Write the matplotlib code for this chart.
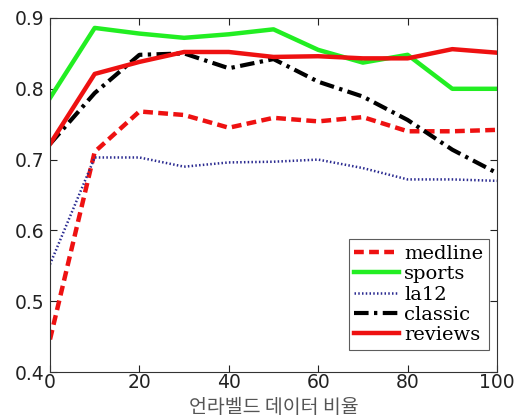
import matplotlib
matplotlib.use("Agg")
import matplotlib.pyplot as plt

x = [0, 10, 20, 30, 40, 50, 60, 70, 80, 90, 100]
medline = [0.446, 0.711, 0.768, 0.763, 0.745, 0.759, 0.754, 0.760, 0.740, 0.740, 0.742]
sports = [0.787, 0.886, 0.878, 0.872, 0.877, 0.884, 0.855, 0.837, 0.848, 0.800, 0.800]
la12 = [0.552, 0.703, 0.703, 0.690, 0.696, 0.697, 0.700, 0.688, 0.672, 0.672, 0.670]
classic = [0.722, 0.794, 0.848, 0.850, 0.829, 0.842, 0.810, 0.789, 0.756, 0.714, 0.681]
reviews = [0.722, 0.821, 0.838, 0.852, 0.852, 0.845, 0.846, 0.843, 0.843, 0.856, 0.851]

xticks = [0, 20, 40, 60, 80, 100]
yticks = [0.4, 0.5, 0.6, 0.7, 0.8, 0.9]
xlabel = "언라벨드 데이터 비율"

fig = plt.figure(figsize=(5.31, 4.20), dpi=100)
ax = fig.add_axes([50/531, 48/420, 447/531, 354/420])

ax.plot(x, medline, color="#ee1111", lw=3.2, ls=(0, (2.2, 1.2)), label="medline")
ax.plot(x, sports, color="#22ee22", lw=3.2, ls="-", label="sports")
ax.plot(x, la12, color="#2a2a90", lw=1.8, ls=(0, (0.6, 0.9)), label="la12")
ax.plot(x, classic, color="black", lw=3.0, ls=(0, (3.5, 1.3, 0.8, 1.3)), label="classic")
ax.plot(x, reviews, color="#ee1111", lw=3.2, ls="-", label="reviews")

ax.set_xlim(0, 100)
ax.set_ylim(0.4, 0.9)
ax.set_xticks(xticks)
ax.set_yticks(yticks)
ax.set_xticklabels([str(v) for v in xticks])
ax.set_yticklabels([f"{v:.1f}" for v in yticks])
ax.tick_params(direction="in", top=True, right=True, length=5, width=0.8,
               labelsize=13.5, colors="#222222")
ax.tick_params(axis="x", pad=1)
ax.tick_params(axis="y", pad=4)
for lab in ax.get_xticklabels() + ax.get_yticklabels():
    lab.set_fontfamily("DejaVu Sans")
for sp in ax.spines.values():
    sp.set_linewidth(0.8)
    sp.set_color("#333333")

ax.set_xlabel(xlabel, fontfamily=["Noto Sans CJK KR", "DejaVu Sans"], fontsize=14,
              color="#555555", labelpad=3)

leg = ax.legend(loc="lower right", bbox_to_anchor=(0.982, 0.062),
                prop={"family": "DejaVu Serif", "size": 14},
                handlelength=2.3, handletextpad=0.25, labelspacing=0.12,
                borderpad=0.3, borderaxespad=0, frameon=True, fancybox=False)
leg.get_frame().set_edgecolor("#333333")
leg.get_frame().set_linewidth(0.8)

fig.savefig("out.png", dpi=100)
